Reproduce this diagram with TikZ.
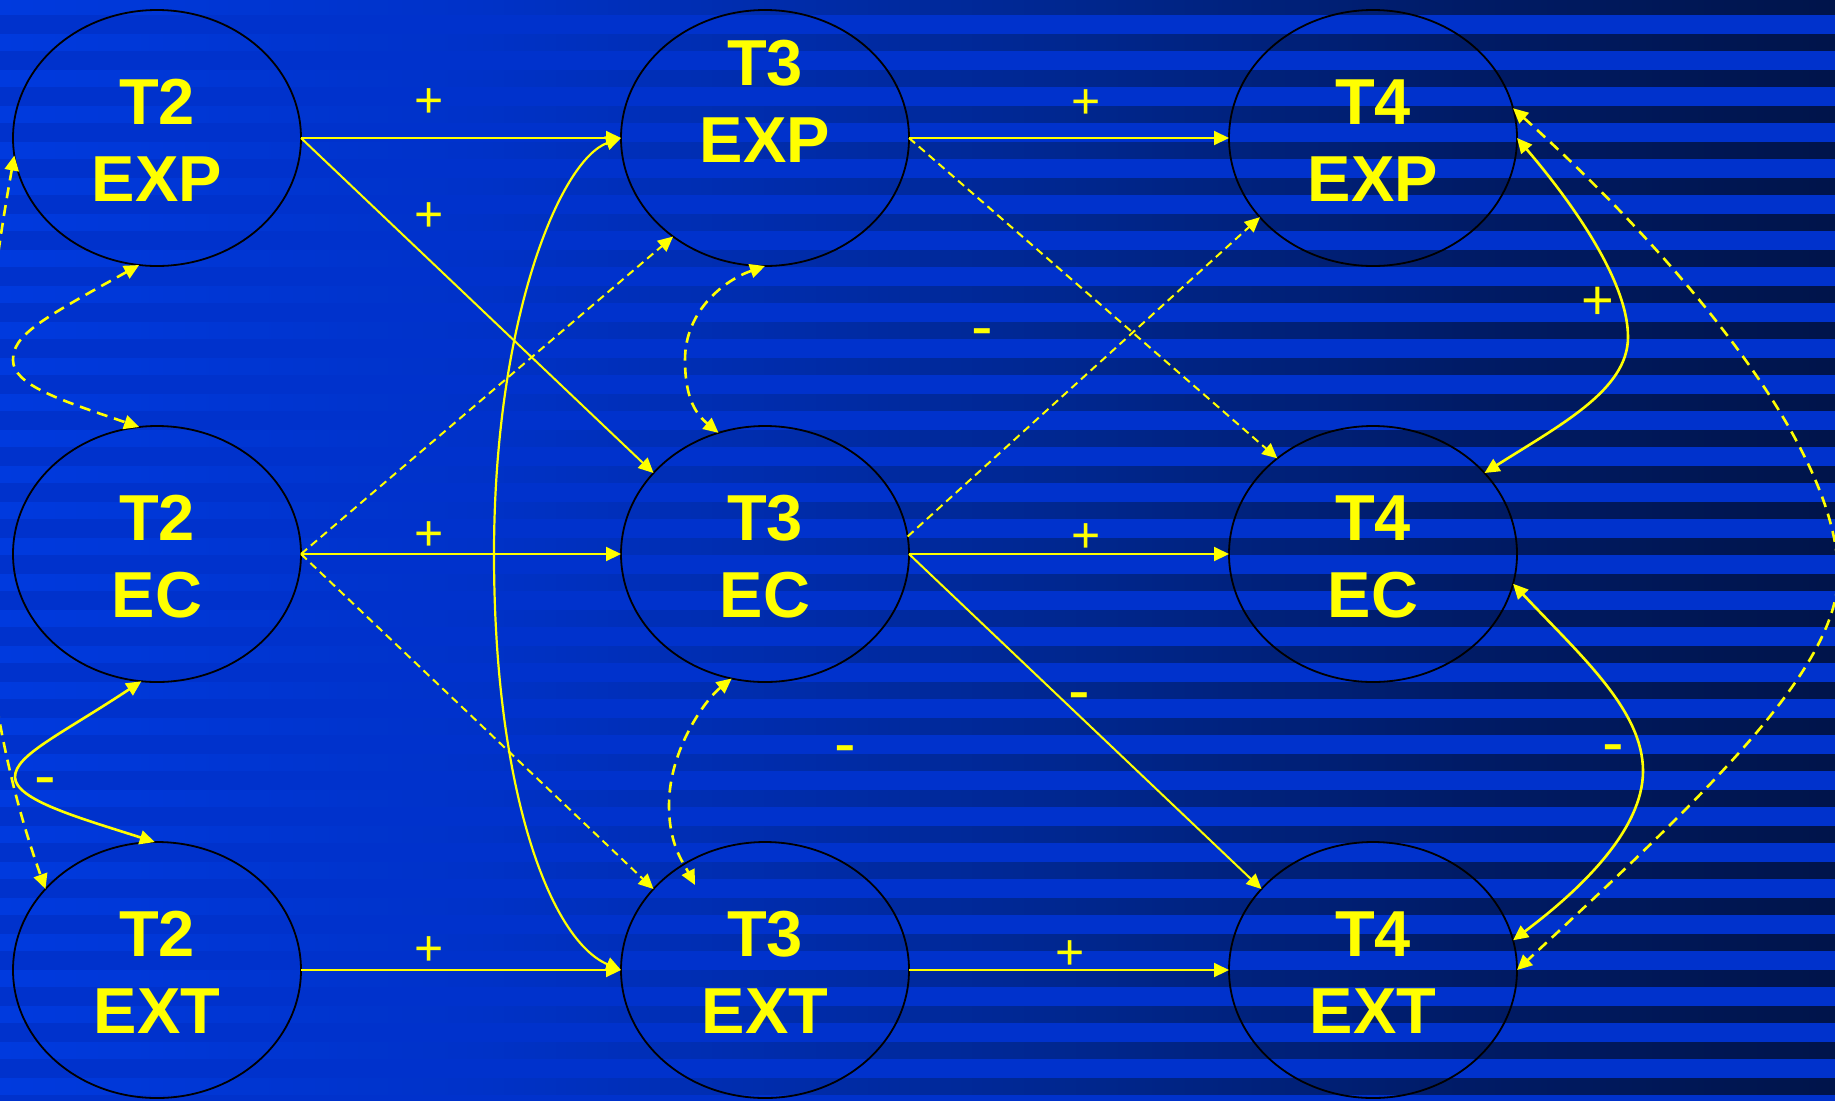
\documentclass[tikz,border=0pt]{standalone}
\usepackage{fontspec}
\setmainfont{Liberation Sans}
\usetikzlibrary{arrows.meta,shapes.geometric}
\definecolor{ylw}{RGB}{255,255,0}
\definecolor{bandbase}{RGB}{0,50,204}
\definecolor{bA}{RGB}{0,58,222}
\definecolor{bB}{RGB}{0,50,200}
\definecolor{bC}{RGB}{0,38,140}
\definecolor{bD}{RGB}{0,27,102}
\definecolor{bE}{RGB}{0,20,74}
\pgfdeclarehorizontalshading{bandshade}{100bp}{color(0bp)=(bA); color(25bp)=(bA); color(38bp)=(bB); color(55bp)=(bC); color(65bp)=(bD); color(75bp)=(bE); color(100bp)=(bE)}
\begin{document}
\begin{tikzpicture}[x=1pt,y=-1pt,
  ell/.style={ellipse, draw=black, line width=1.8pt, minimum width=288pt, minimum height=256pt, inner sep=0pt, outer sep=0pt},
  nametxt/.style={text=ylw, font=\bfseries\fontsize{65}{77}\selectfont, anchor=base, inner sep=0pt},
  sgnp/.style={text=ylw, font=\fontsize{50}{60}\selectfont, anchor=base, inner sep=0pt},
  sgnm/.style={text=ylw, font=\fontsize{65}{77}\selectfont, anchor=base, inner sep=0pt},
  arr/.style={draw=ylw, line width=2pt, -{Triangle[length=15pt,width=14pt]}},
  darr/.style={arr, dash pattern=on 8pt off 5pt},
  corr/.style={draw=ylw, line width=2.6pt, {Triangle[length=15pt,width=14pt]}-{Triangle[length=15pt,width=14pt]}},
  dcorr/.style={corr, dash pattern=on 11pt off 7pt},
]
\useasboundingbox (0,0) rectangle (1835,1101);
\fill[bandbase] (0,0) rectangle (1835,1101);
\foreach \k in {-1,...,29} {
  \shade[shading=bandshade] (0,{34.7+36*\k}) rectangle (1835,{50+36*\k});
}
\clip (0,0) rectangle (1835,1101);

% nodes
\node[ell] (t2exp) at (157,138) {};
\node[ell] (t2ec)  at (157,554) {};
\node[ell] (t2ext) at (157,970) {};
\node[ell] (t3exp) at (765,138) {};
\node[ell] (t3ec)  at (765,554) {};
\node[ell] (t3ext) at (765,970) {};
\node[ell] (t4exp) at (1373,138) {};
\node[ell] (t4ec)  at (1373,554) {};
\node[ell] (t4ext) at (1373,970) {};

\node[nametxt] (t2expA) at (157,124) {T2};
\node[nametxt] (t2expB) at (157,201) {EXP};
\node[nametxt] (t2ecA) at (157,540) {T2};
\node[nametxt] (t2ecB) at (157,617) {EC};
\node[nametxt] (t2extA) at (157,956) {T2};
\node[nametxt] (t2extB) at (157,1033) {EXT};
\node[nametxt] (t3expA) at (765,85) {T3};
\node[nametxt] (t3expB) at (765,162) {EXP};
\node[nametxt] (t3ecA) at (765,540) {T3};
\node[nametxt] (t3ecB) at (765,617) {EC};
\node[nametxt] (t3extA) at (765,956) {T3};
\node[nametxt] (t3extB) at (765,1033) {EXT};
\node[nametxt] (t4expA) at (1373,124) {T4};
\node[nametxt] (t4expB) at (1373,201) {EXP};
\node[nametxt] (t4ecA) at (1373,540) {T4};
\node[nametxt] (t4ecB) at (1373,617) {EC};
\node[nametxt] (t4extA) at (1373,956) {T4};
\node[nametxt] (t4extB) at (1373,1033) {EXT};

% regression paths
\draw[arr] (t2exp.east) -- (t3exp.west);
\draw[arr] (t2exp.east) -- (t3ec.144);
\draw[arr] (t2ec.east) -- (t3ec.west);
\draw[arr] (t2ext.east) -- (t3ext.west);
\draw[arr] (t3exp.east) -- (t4exp.west);
\draw[arr] (t3ec.east) -- (t4ec.west);
\draw[arr] (t3ec.east) -- (t4ext.144);
\draw[arr] (t3ext.east) -- (t4ext.west);
\draw[darr] (t2ec.east) -- (t3exp.227);
\draw[darr] (t2ec.east) -- (t3ext.144);
\draw[darr] (t3exp.east) -- (t4ec.135);
\draw[darr] (t3ec.7) -- (t4exp.215);

% correlations
\coordinate (k3) at (695,885);
\draw[corr, line width=2.2pt] (t3exp.west) .. controls (560,160) and (494,320) .. (494,554) .. controls (494,790) and (550,940) .. (t3ext.west);
\draw[dcorr] (t2exp.262) .. controls (40,320) and (13,335) .. (13,360) .. controls (13,385) and (60,400) .. (t2ec.98);
\draw[corr] (t2ec.263) .. controls (60,735) and (15,755) .. (15,777) .. controls (15,800) and (80,818) .. (t2ext.91);
\draw[dcorr] (t2exp.187) .. controls (-30,400) and (-40,650) .. (t2ext.144);
\draw[dcorr] (t3exp.south) .. controls (725,280) and (685,310) .. (685,360) .. controls (685,400) and (697,415) .. (t3ec.111);
\draw[dcorr] (t3ec.255) .. controls (705,700) and (669,750) .. (669,805) .. controls (669,845) and (683,862) .. (k3);
\draw[corr] (t4exp.east) .. controls (1570,200) and (1628,280) .. (1628,337) .. controls (1628,390) and (1560,425) .. (t4ec.36);
\draw[corr] (t4ec.-12) .. controls (1580,655) and (1643,710) .. (1643,771) .. controls (1643,830) and (1580,890) .. (t4ext.12);
\draw[dcorr] (t4exp.12) .. controls (1660,240) and (1838,440) .. (1838,575) .. controls (1838,670) and (1700,800) .. (t4ext.east);

% signs
\node[sgnp] (p1) at (429.5,117.1) {+};
\node[sgnp] (p2) at (429.5,231.6) {+};
\node[sgnp] (p3) at (429.5,550.1) {+};
\node[sgnp] (p4) at (429.5,965.6) {+};
\node[sgnp] (p5) at (1086.5,118.1) {+};
\node[sgnp] (p6) at (1086,552.6) {+};
\node[sgnp] (p7) at (1069.6,969.1) {+};
\node[sgnp, font=\fontsize{56}{66}\selectfont] (p8) at (1597.5,319.7) {+};
\node[sgnm] (m1) at (982,348.7) {-};
\node[sgnm] (m2) at (845,765.2) {-};
\node[sgnm] (m3) at (1079,712.7) {-};
\node[sgnm] (m4) at (1613,764.7) {-};
\node[sgnm] (m5) at (45,797.2) {-};
\end{tikzpicture}
\end{document}
